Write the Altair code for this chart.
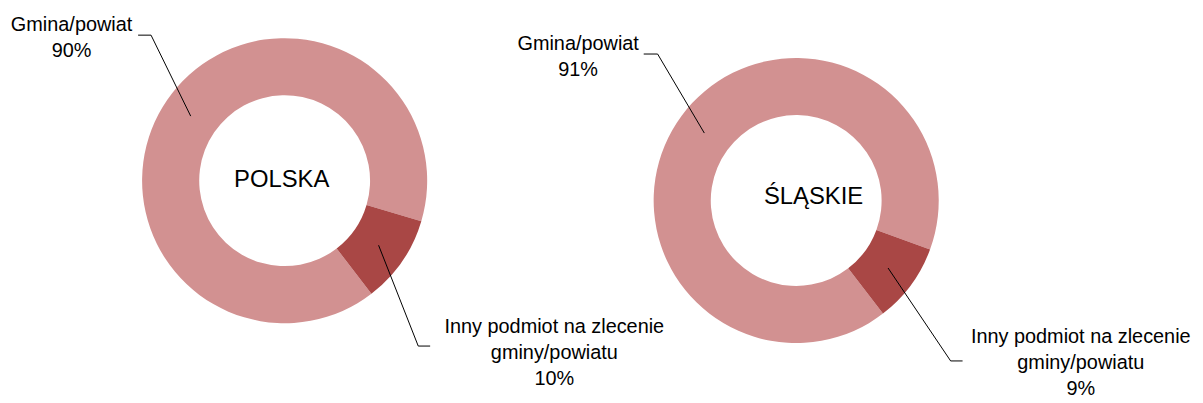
import math
import altair as alt
import pandas as pd

# ---------------- data ----------------
regions = ["POLSKA", "ŚLĄSKIE"]
categories = ["Gmina/powiat", "Inny podmiot na zlecenie gminy/powiatu"]
label_text = ["Gmina/powiat", "Inny podmiot na zlecenie\ngminy/powiatu"]
polska_values = [90, 10]
slaskie_values = [91, 9]
colors = ["#D29191", "#A94745"]

# ---------------- layout (page pixel coordinates) ----------------
OFF = 8
W, H = 1195, 395
FONT = "Liberation Sans, Arial, sans-serif"
R_OUT, R_IN = 143.5, 86
R_MID = (R_OUT + R_IN) / 2
START = math.radians(142.5)
centers = {"POLSKA": (286.5, 180.5), "ŚLĄSKIE": (801.5, 200.5)}
center_text_pos = {"POLSKA": (283.5, 180), "ŚLĄSKIE": (819, 197)}
# elbow and end of each leader line, and centre of the first label line
leaders = {
    ("POLSKA", 0): dict(elbow=(152, 34), end=(139, 34), label=(72, 24)),
    ("POLSKA", 1): dict(elbow=(421, 347), end=(433, 347), label=(558, 328)),
    ("ŚLĄSKIE", 0): dict(elbow=(662, 53), end=(648, 53), label=(582, 43)),
    ("ŚLĄSKIE", 1): dict(elbow=(957, 362), end=(969, 362), label=(1088, 338)),
}

values_by_region = {"POLSKA": polska_values, "ŚLĄSKIE": slaskie_values}

arc_rows, line_rows, label_rows = [], [], []
for reg in regions:
    vals = values_by_region[reg]
    total = sum(vals)
    cx, cy = centers[reg]
    cum = 0
    for i, (cat, v) in enumerate(zip(categories, vals)):
        arc_rows.append(dict(region=reg, category=cat, value=v, order=i))
        mid = START + 2 * math.pi * (cum + v / 2) / total
        cum += v
        sx = cx + R_MID * math.sin(mid)
        sy = cy - R_MID * math.cos(mid)
        L = leaders[(reg, i)]
        key = f"{reg}-{i}"
        for j, (px, py) in enumerate([(sx, sy), L["elbow"], L["end"]]):
            line_rows.append(dict(key=key, seq=j, px=px, py=py))
        label_rows.append(dict(px=L["label"][0], py=L["label"][1],
                               text=f"{label_text[i]}\n{v}%"))

arc_df = pd.DataFrame(arc_rows)
line_df = pd.DataFrame(line_rows)
label_df = pd.DataFrame(label_rows)
center_df = pd.DataFrame([dict(px=center_text_pos[r][0], py=center_text_pos[r][1], text=r)
                          for r in regions])

xs = alt.Scale(domain=[OFF, OFF + W], nice=False, zero=False)
ys = alt.Scale(domain=[OFF, OFF + H], nice=False, zero=False, reverse=True)

layers = []
for reg in regions:
    cx, cy = centers[reg]
    layers.append(
        alt.Chart(arc_df[arc_df.region == reg]).mark_arc(
            innerRadius=R_IN, outerRadius=R_OUT
        ).encode(
            theta=alt.Theta("value:Q", stack=True,
                            scale=alt.Scale(domain=[0, 100], range=[START, START + 2 * math.pi])),
            color=alt.Color("category:N", scale=alt.Scale(domain=categories, range=colors), legend=None),
            order=alt.Order("order:Q"),
            x=alt.value(cx - OFF),
            y=alt.value(cy - OFF),
        )
    )

lines = alt.Chart(line_df).mark_line(color="black", strokeWidth=1).encode(
    x=alt.X("px:Q", scale=xs, axis=None),
    y=alt.Y("py:Q", scale=ys, axis=None),
    detail="key:N",
    order="seq:Q",
)

labels = alt.Chart(label_df).mark_text(
    font=FONT, fontSize=20, color="black", align="center", baseline="middle",
    lineBreak="\n", lineHeight=26
).encode(
    x=alt.X("px:Q", scale=xs, axis=None),
    y=alt.Y("py:Q", scale=ys, axis=None),
    text="text:N",
)

center_labels = alt.Chart(center_df).mark_text(
    font=FONT, fontSize=24, color="black", align="center", baseline="middle"
).encode(
    x=alt.X("px:Q", scale=xs, axis=None),
    y=alt.Y("py:Q", scale=ys, axis=None),
    text="text:N",
)

chart = alt.layer(*layers, lines, labels, center_labels).properties(
    width=W, height=H, padding=0, autosize=alt.AutoSizeParams(type="none")
).configure_view(stroke=None).resolve_scale(theta="shared")

chart.save("out.html", embed_options={"renderer": "svg", "actions": False})
